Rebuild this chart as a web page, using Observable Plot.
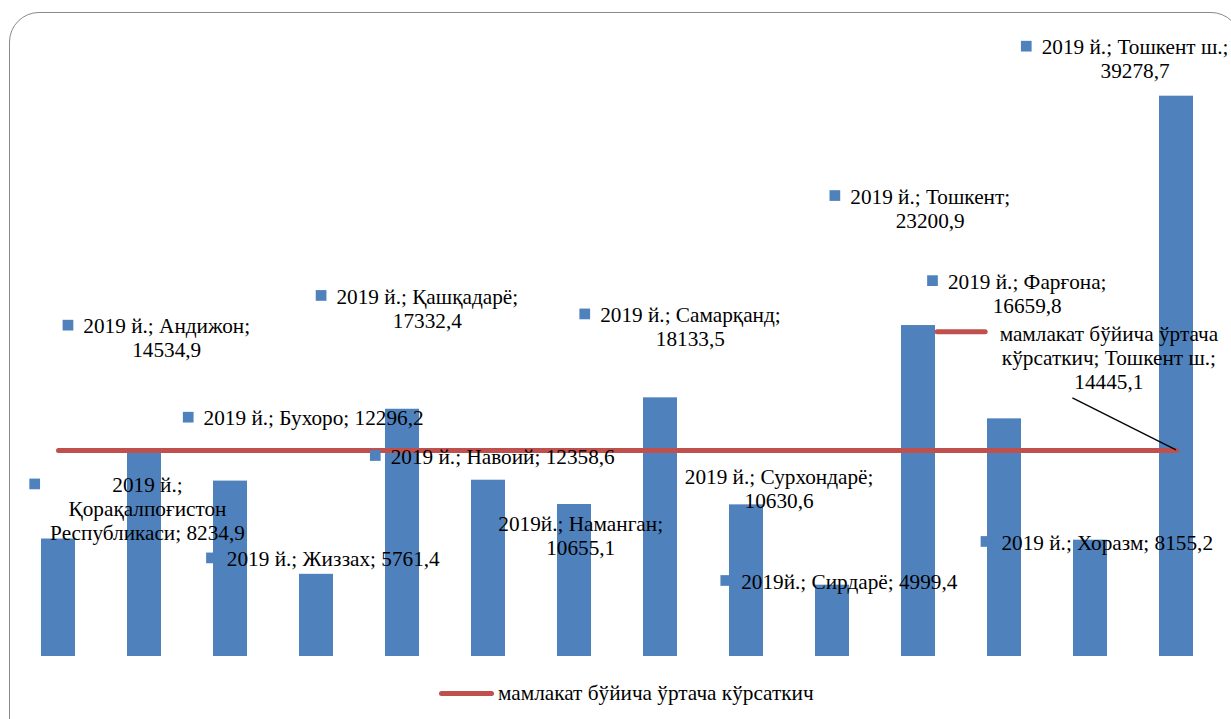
<!DOCTYPE html>
<html>
<head>
<meta charset="utf-8">
<script src="https://cdn.jsdelivr.net/npm/d3@7"></script>
<script src="https://cdn.jsdelivr.net/npm/@observablehq/plot@0.6"></script>
<style>
html, body { margin: 0; padding: 0; background: #fff; overflow: hidden; }
#wrap { position: relative; width: 1231px; height: 719px; }
#frame { position: absolute; left: 9px; top: 12px; width: 1232px; height: 760px; border: 1.5px solid #8a8a8a; border-radius: 30px; box-sizing: border-box; pointer-events: none; }
#chart { position: absolute; left: 0; top: 0; }
#legend { position: absolute; left: 439px; top: 681px; display: flex; align-items: center; line-height: 24px; color: #000; white-space: nowrap; }
#legend .sw { display: inline-block; width: 55px; height: 5px; border-radius: 3px; background: #C0504D; margin-right: 4px; }
</style>
</head>
<body>
<div id="wrap">
  <div id="chart"></div>
  <div id="legend"><span class="sw"></span><span id="legendText"></span></div>
  <div id="frame"></div>
</div>
<script>
// ---- data ----
const regions = [
  "Қорақалпоғистон Республикаси", "Андижон", "Бухоро", "Жиззах", "Қашқадарё",
  "Навоий", "Наманган", "Самарқанд", "Сурхондарё", "Сирдарё",
  "Тошкент", "Фарғона", "Хоразм", "Тошкент ш."
];
const values2019 = [
  8234.9, 14534.9, 12296.2, 5761.4, 17332.4,
  12358.6, 10655.1, 18133.5, 10630.6, 4999.4,
  23200.9, 16659.8, 8155.2, 39278.7
];
const nationalAverage = 14445.1;
const averageSeriesName = "мамлакат бўйича ўртача кўрсаткич";
const dataLabels = [
  "2019 й.;\nҚорақалпоғистон\nРеспубликаси; 8234,9",
  "2019 й.; Андижон;\n14534,9",
  "2019 й.; Бухоро; 12296,2",
  "2019 й.; Жиззах; 5761,4",
  "2019 й.; Қашқадарё;\n17332,4",
  "2019 й.; Навоий; 12358,6",
  "2019й.; Наманган;\n10655,1",
  "2019 й.; Самарқанд;\n18133,5",
  "2019 й.; Сурхондарё;\n10630,6",
  "2019й.; Сирдарё; 4999,4",
  "2019 й.; Тошкент;\n23200,9",
  "2019 й.; Фарғона;\n16659,8",
  "2019 й.; Хоразм; 8155,2",
  "2019 й.; Тошкент ш.;\n39278,7"
];
const averageDataLabel = "мамлакат бўйича ўртача\nкўрсаткич; Тошкент ш.;\n14445,1";

// ---- label layout (pixel offsets from each bar's top centre) ----
const labelLayout = [
  {dx: 89,    dy: -46.8,  marker: true},
  {dx: 22.2,  dy: -115.7, marker: true},
  {dx: 83.1,  dy: -55.6,  marker: true},
  {dx: 16.8,  dy: -8.1,   marker: true},
  {dx: 24.8,  dy: -105.5, marker: true},
  {dx: 14.2,  dy: -16.4,  marker: true},
  {dx: 6.2,   dy: 26,     marker: false},
  {dx: 29.9,  dy: -75.6,  marker: true},
  {dx: 32.6,  dy: -21.1,  marker: false},
  {dx: 16.8,  dy: 3.6,    marker: true},
  {dx: 11.7,  dy: -121.7, marker: true},
  {dx: 22.7,  dy: -129.9, marker: true},
  {dx: 16.7,  dy: 9.6,    marker: true},
  {dx: -41.4, dy: -41.7,  marker: true}
];
const avgLabelLayout = {dx: -67.6, dy: -109.9};
const leaderFrom = {dx: -103.6, dy: -52};

const FAMILY = '"Liberation Serif", "Times New Roman", Tinos, "DejaVu Serif", serif';
const LINE = 24;
const barColor = "#4F81BD", avgColor = "#C0504D";

// calibrate the font size so that a reference label has the width it has in the picture
const ctx = document.createElement("canvas").getContext("2d");
ctx.font = `21px ${FAMILY}`;
const refW = ctx.measureText("2019 й.; Бухоро; 12296,2").width;
const FONT = Math.max(15, Math.min(23, 21 * 220 / refW));
ctx.font = `${FONT}px ${FAMILY}`;
const maxW = s => Math.max(...s.split("\n").map(l => ctx.measureText(l).width));

document.getElementById("wrap").style.fontFamily = FAMILY;
document.getElementById("legend").style.fontSize = FONT + "px";

const table = regions.map((region, i) => ({
  region, value: values2019[i], average: nationalAverage, label: dataLabels[i]
}));

const labelMarks = [];
table.forEach((d, i) => {
  const L = labelLayout[i];
  const n = d.label.split("\n").length;
  labelMarks.push(Plot.text([d], {
    x: "region", y: "value", text: "label",
    dx: L.dx, dy: L.dy + (n - 1) * LINE,
    fontSize: FONT, fontFamily: FAMILY, lineHeight: LINE / FONT, lineAnchor: "bottom",
    textAnchor: "middle", fill: "#000"
  }));
  if (L.marker) {
    const w = maxW(d.label);
    labelMarks.push(Plot.dot([d], {
      x: "region", y: "value",
      dx: L.dx - w / 2 - 15.4, dy: L.dy - 8.3,
      symbol: "square", r: 6.04, fill: barColor
    }));
  }
});

const lastRow = table[table.length - 1];
const avgN = averageDataLabel.split("\n").length;

function annotations(...args) {
  const s = args.find(a => a && typeof a.x === "function" && typeof a.y === "function");
  if (!s) return null;
  const bx = s.x.bandwidth ? s.x.bandwidth() / 2 : 0;
  const px = s.x(lastRow.region) + bx, py = s.y(lastRow.average);
  const g = d3.create("svg:g");
  g.append("line")
    .attr("x1", px + leaderFrom.dx).attr("y1", py + leaderFrom.dy)
    .attr("x2", px).attr("y2", py)
    .attr("stroke", "#000").attr("stroke-width", 1.3);
  const w = maxW(averageDataLabel);
  const cx = px + avgLabelLayout.dx;
  const my = py + avgLabelLayout.dy - 8.3;
  const right = cx - w / 2 - 11.5 - 2.5;
  g.append("line")
    .attr("x1", right - 48).attr("y1", my)
    .attr("x2", right).attr("y2", my)
    .attr("stroke", avgColor).attr("stroke-width", 5).attr("stroke-linecap", "round");
  return g.node();
}

const chart = Plot.plot({
  width: 1231,
  height: 675,
  marginTop: 85.4,
  marginBottom: 19,
  marginLeft: 30.4,
  marginRight: 27.1,
  style: {fontFamily: FAMILY, fontSize: FONT + "px", background: "transparent", overflow: "visible"},
  x: {domain: regions, paddingInner: 0.6025, paddingOuter: 0.1, axis: null},
  y: {domain: [0, 40000], axis: null},
  marks: [
    Plot.barY(table, {x: "region", y: "value", fill: barColor}),
    Plot.line(table, {x: "region", y: "average", stroke: avgColor, strokeWidth: 5, strokeLinecap: "round"}),
    ...labelMarks,
    Plot.text([lastRow], {
      x: "region", y: "average", text: () => averageDataLabel,
      dx: avgLabelLayout.dx, dy: avgLabelLayout.dy + (avgN - 1) * LINE,
      fontSize: FONT, fontFamily: FAMILY, lineHeight: LINE / FONT, lineAnchor: "bottom",
      textAnchor: "middle", fill: "#000"
    }),
    annotations
  ]
});
document.getElementById("chart").appendChild(chart);
document.getElementById("legendText").textContent = averageSeriesName;
</script>
</body>
</html>
